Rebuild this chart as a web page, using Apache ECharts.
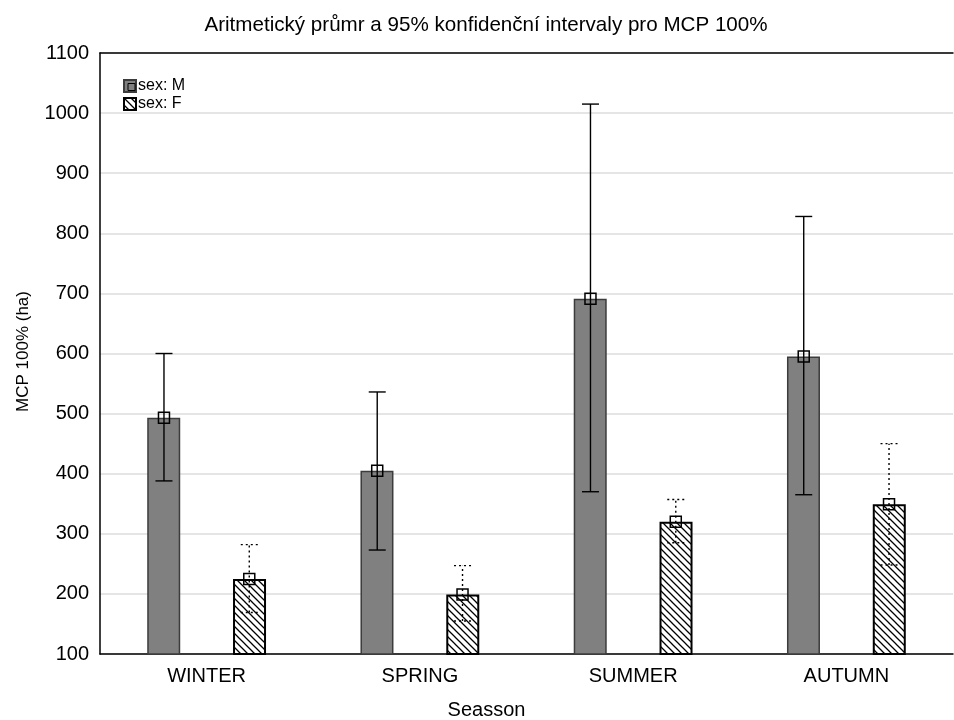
<!DOCTYPE html>
<html>
<head>
<meta charset="utf-8">
<script src="https://cdn.jsdelivr.net/npm/echarts@6/dist/echarts.min.js"></script>
<style>
  html, body { margin: 0; padding: 0; background: #fff; }
  #chart { width: 954px; height: 720px; }
</style>
</head>
<body>
<div id="chart"></div>
<script>
const categories = ['WINTER', 'SPRING', 'SUMMER', 'AUTUMN'];
const maleMean = [493, 405, 691, 595];
const maleLow = [388, 273, 370, 365];
const maleHigh = [600, 536, 1015, 828];
const femaleMean = [225, 199, 320, 349];
const femaleLow = [169, 155, 285, 248];
const femaleHigh = [282, 247, 357, 450];
const yTicks = [100, 1100, 100]; // min, max, step

// diagonal hatch pattern for the female bars
function makeHatch() {
  const c = document.createElement('canvas');
  c.width = 7; c.height = 7;
  const ctx = c.getContext('2d');
  ctx.fillStyle = '#fff';
  ctx.fillRect(0, 0, 7, 7);
  ctx.strokeStyle = '#000';
  ctx.lineWidth = 1.3;
  ctx.beginPath();
  ctx.moveTo(-1, -1); ctx.lineTo(8, 8);
  ctx.moveTo(-8, -1); ctx.lineTo(1, 8);
  ctx.moveTo(6, -1); ctx.lineTo(15, 8);
  ctx.stroke();
  return c;
}
const hatch = { image: makeHatch(), repeat: 'repeat' };

// error bar + mean marker, shifted to sit on its bar
function errorSeries(name, mean, low, high, side, dashed) {
  return {
    name: name + ' ci',
    type: 'custom',
    z: 10,
    data: categories.map((c, i) => [i, mean[i], low[i], high[i]]),
    renderItem: (params, api) => {
      const band = api.size([1, 0])[0];
      const dx = side * band * 0.2;
      const m = api.coord([api.value(0), api.value(1)]);
      const lo = api.coord([api.value(0), api.value(2)]);
      const hi = api.coord([api.value(0), api.value(3)]);
      const x = m[0] + dx;
      const cap = 8.5;
      const style = { stroke: '#000', lineWidth: 1.4, lineDash: dashed ? [2, 3] : null };
      return {
        type: 'group',
        children: [
          { type: 'line', shape: { x1: x, y1: lo[1], x2: x, y2: hi[1] }, style: style },
          { type: 'line', shape: { x1: x - cap, y1: hi[1], x2: x + cap, y2: hi[1] }, style: style },
          { type: 'line', shape: { x1: x - cap, y1: lo[1], x2: x + cap, y2: lo[1] }, style: style },
          { type: 'rect', shape: { x: x - 5.5, y: m[1] - 5.5, width: 11, height: 11 },
            style: { fill: null, stroke: '#000', lineWidth: 1.5 } }
        ]
      };
    }
  };
}

const chart = echarts.init(document.getElementById('chart'));
const font = 'Liberation Sans, Arial, sans-serif';

chart.setOption({
  backgroundColor: '#fff',
  animation: false,
  textStyle: { fontFamily: font },
  title: {
    text: 'Aritmetický průmr a 95% konfidenční intervaly pro MCP 100%',
    left: 481,
    textAlign: 'center',
    top: 10,
    textStyle: { fontSize: 20.6, fontWeight: 'normal', color: '#000', fontFamily: font }
  },
  legend: {
    orient: 'vertical',
    left: 123,
    top: 78,
    padding: 0,
    itemWidth: 12,
    itemHeight: 12,
    itemGap: 2,
    icon: 'rect',
    data: ['sex: M', 'sex: F'],
    textStyle: { fontSize: 16, lineHeight: 16, color: '#000', padding: [0, 0, 0, -3] }
  },
  // small mean marker drawn inside the M legend key, as in the original
  graphic: [{
    type: 'rect',
    left: 125.5, top: 81,
    shape: { width: 7, height: 7 },
    style: { fill: null, stroke: '#000', lineWidth: 1 },
    z: 100
  }],
  grid: { left: 100, right: 1, top: 53, bottom: 66, outerBoundsMode: 'none' },
  xAxis: [{
    type: 'category',
    data: categories,
    name: 'Seasson',
    nameLocation: 'middle',
    nameGap: 46,
    nameTextStyle: { fontSize: 20, color: '#000', padding: [0, 80, 0, 0] },
    axisLine: { lineStyle: { color: '#000', width: 1.5 } },
    axisTick: { inside: true, alignWithLabel: true, length: 5, lineStyle: { color: '#000' } },
    axisLabel: { fontSize: 20, color: '#000', margin: 12 },
    splitLine: { show: false }
  }, {
    type: 'category',
    data: categories,
    position: 'top',
    axisLine: { lineStyle: { color: '#000', width: 1.5 } },
    axisTick: { inside: true, alignWithLabel: true, length: 5, lineStyle: { color: '#000' } },
    axisLabel: { show: false }
  }],
  yAxis: {
    type: 'value',
    min: yTicks[0],
    max: yTicks[1],
    interval: yTicks[2],
    name: 'MCP 100% (ha)',
    nameLocation: 'middle',
    nameGap: 68,
    nameTextStyle: { fontSize: 17, color: '#000', padding: [0, 0, 0, 4] },
    axisLine: { show: true, lineStyle: { color: '#000', width: 1.5 } },
    axisTick: { show: false },
    axisLabel: { fontSize: 20, color: '#000', margin: 11, formatter: (v) => String(v) },
    splitLine: { lineStyle: { color: '#dcdcdc', width: 1.5 } }
  },
  series: [
    {
      name: 'sex: M',
      type: 'bar',
      data: maleMean,
      barWidth: 33,
      barGap: '160%',
      itemStyle: { color: '#808080', borderColor: '#3c3c3c', borderWidth: 1.5 }
    },
    {
      name: 'sex: F',
      type: 'bar',
      data: femaleMean,
      barWidth: 33,
      barGap: '160%',
      itemStyle: { color: hatch, borderColor: '#000', borderWidth: 2 }
    },
    errorSeries('sex: M', maleMean, maleLow, maleHigh, -1, false),
    errorSeries('sex: F', femaleMean, femaleLow, femaleHigh, 1, true)
  ]
});
</script>
</body>
</html>
